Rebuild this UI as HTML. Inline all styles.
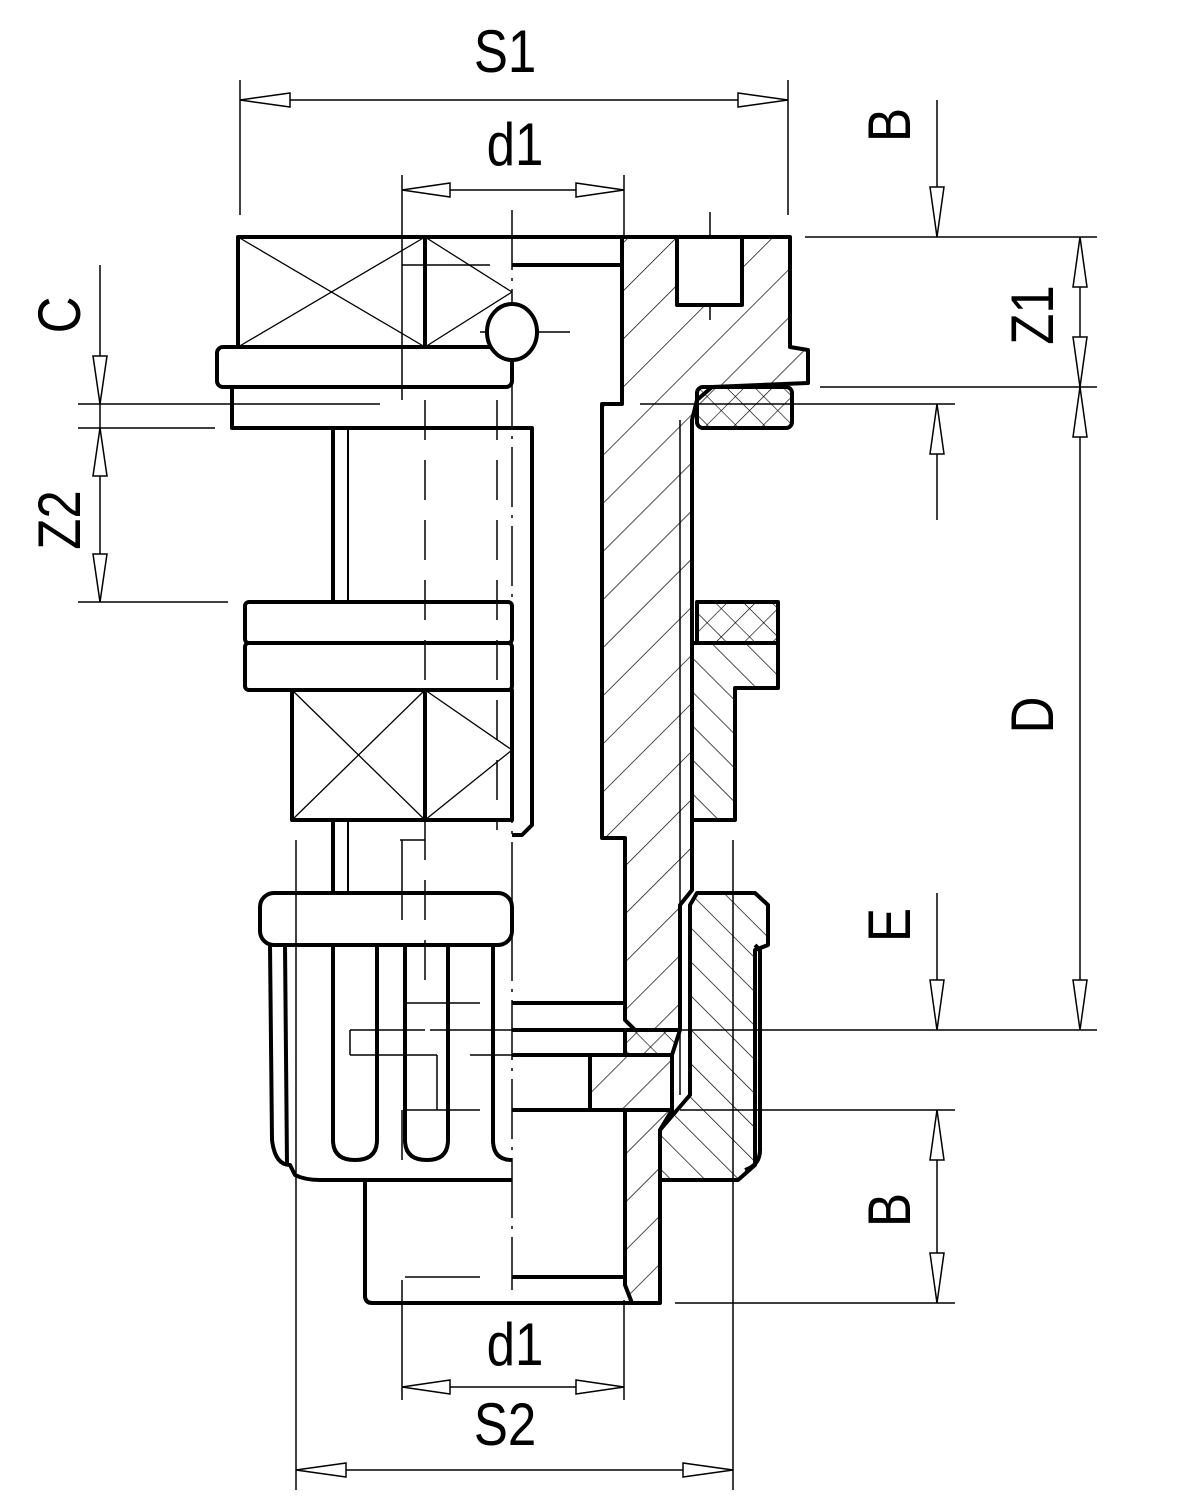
<!DOCTYPE html>
<html><head><meta charset="utf-8"><style>html,body{margin:0;padding:0;background:#fff}svg{display:block}</style></head>
<body>
<svg width="1192" height="1504" viewBox="0 0 1192 1504" xmlns="http://www.w3.org/2000/svg">
<defs>
<pattern id="h1" patternUnits="userSpaceOnUse" width="34" height="34" patternTransform="rotate(45)"><line x1="0" y1="0" x2="0" y2="34" stroke="#000" stroke-width="1.4"/></pattern>
<pattern id="h2" patternUnits="userSpaceOnUse" width="24" height="24" patternTransform="rotate(-45)"><line x1="0" y1="0" x2="0" y2="24" stroke="#000" stroke-width="1.4"/></pattern>
<pattern id="hx" patternUnits="userSpaceOnUse" width="20" height="20" patternTransform="rotate(45)"><line x1="0" y1="0" x2="0" y2="20" stroke="#000" stroke-width="1.3"/><line x1="0" y1="0" x2="20" y2="0" stroke="#000" stroke-width="1.3"/></pattern>
</defs>
<g fill="none" stroke="#000" stroke-width="1.5">
<line x1="240" y1="80" x2="240" y2="215"/><line x1="788" y1="80" x2="788" y2="215"/>
<line x1="240" y1="100" x2="788" y2="100"/>
<line x1="402" y1="175" x2="402" y2="400"/><line x1="624" y1="175" x2="624" y2="237"/>
<line x1="402" y1="190" x2="624" y2="190"/>
<line x1="937" y1="100" x2="937" y2="237"/><line x1="937" y1="404" x2="937" y2="520"/>
<line x1="805" y1="237" x2="1097" y2="237"/>
<line x1="820" y1="387" x2="1097" y2="387"/>
<line x1="640" y1="404" x2="955" y2="404"/>
<line x1="1080" y1="237" x2="1080" y2="1030"/>
<line x1="680" y1="1030" x2="1097" y2="1030"/>
<line x1="937" y1="893" x2="937" y2="1030"/>
<line x1="680" y1="1110" x2="955" y2="1110"/>
<line x1="937" y1="1110" x2="937" y2="1303"/>
<line x1="675" y1="1303" x2="955" y2="1303"/>
<line x1="100" y1="265" x2="100" y2="602"/>
<line x1="78" y1="404" x2="380" y2="404"/><line x1="78" y1="428" x2="215" y2="428"/>
<line x1="78" y1="602" x2="228" y2="602"/>
<line x1="402" y1="1280" x2="402" y2="1400"/><line x1="624" y1="1300" x2="624" y2="1400"/>
<line x1="402" y1="1387" x2="624" y2="1387"/>
<line x1="296" y1="840" x2="296" y2="1490"/><line x1="733" y1="840" x2="733" y2="1490"/>
<line x1="296" y1="1470" x2="733" y2="1470"/>
<line x1="512" y1="210" x2="512" y2="1290" stroke-dasharray="60,8,3,8"/>
<line x1="425" y1="400" x2="425" y2="1000" stroke-dasharray="40,20"/>
<line x1="497" y1="400" x2="497" y2="830" stroke-dasharray="40,20"/>
<line x1="710" y1="212" x2="710" y2="320"/>
<line x1="480" y1="332" x2="570" y2="332"/>
<line x1="402" y1="265" x2="490" y2="265"/>
<line x1="400" y1="840" x2="425" y2="840"/><line x1="402" y1="840" x2="402" y2="920"/>
<line x1="405" y1="1003" x2="480" y2="1003"/><line x1="350" y1="1030" x2="425" y2="1030"/><line x1="350" y1="1030" x2="350" y2="1055"/><line x1="350" y1="1055" x2="437" y2="1055"/>
<line x1="430" y1="1030" x2="512" y2="1030"/><line x1="470" y1="1055" x2="512" y2="1055"/>
<line x1="437" y1="1055" x2="437" y2="1110"/><line x1="405" y1="1110" x2="480" y2="1110"/>
<line x1="405" y1="1277" x2="480" y2="1277"/><line x1="402" y1="1110" x2="402" y2="1160"/>
<line x1="680" y1="420" x2="680" y2="1095"/>
</g>
<g fill="#fff" stroke="#000" stroke-width="1.5">
<polygon points="240,100 290,93 290,107"/><polygon points="788,100 738,93 738,107"/>
<polygon points="402,190 450,183 450,197"/><polygon points="624,190 576,183 576,197"/>
<polygon points="402,1387 450,1380 450,1394"/><polygon points="624,1387 576,1380 576,1394"/>
<polygon points="296,1470 346,1463 346,1477"/><polygon points="733,1470 683,1463 683,1477"/>
<polygon points="937,237 930,187 944,187"/><polygon points="937,404 930,454 944,454"/>
<polygon points="1080,237 1073,287 1087,287"/><polygon points="1080,387 1073,337 1087,337"/>
<polygon points="1080,387 1073,437 1087,437"/><polygon points="1080,1030 1073,980 1087,980"/>
<polygon points="937,1030 930,980 944,980"/>
<polygon points="937,1110 930,1160 944,1160"/><polygon points="937,1303 930,1253 944,1253"/>
<polygon points="100,404 93,356 107,356"/><polygon points="100,428 93,476 107,476"/>
<polygon points="100,602 93,554 107,554"/>
</g>
<g stroke="#000" stroke-width="4" stroke-linejoin="round">
<polygon fill="url(#h1)" points="622,237 790,237 790,347 808,350 808,383 712,387 697,400 692,420 692,890 680,905 680,1030 635,1030 625,1020 625,838 602,838 602,404 622,404"/>
<rect x="677" y="237" width="65" height="68" fill="#fff"/>
<rect x="697" y="387" width="95" height="41" rx="6" fill="url(#hx)"/>
<rect x="697" y="602" width="81" height="41" fill="url(#hx)"/>
<polygon fill="url(#h2)" points="692,643 778,643 778,688 735,688 735,820 692,820"/>
<polygon fill="url(#h2)" points="697,893 755,893 768,905 768,945 755,950 755,1165 738,1180 660,1180 660,1130 690,1095 690,905"/>
<polygon fill="url(#hx)" points="625,1030 680,1030 672,1055 625,1055"/>
<polygon fill="url(#h1)" points="590,1055 672,1055 672,1110 590,1110"/>
<polygon fill="url(#h1)" points="625,1110 672,1110 660,1130 660,1303 632,1303 625,1285"/>
</g>
<g fill="none" stroke="#000" stroke-width="4" stroke-linejoin="round">
<rect x="238" y="237" width="187" height="110"/>
<line x1="425" y1="237" x2="622" y2="237"/>
<line x1="425" y1="237" x2="425" y2="347"/>
<line x1="512" y1="265" x2="622" y2="265"/>
<line x1="622" y1="237" x2="622" y2="404"/>
<rect x="217" y="347" width="295" height="40" rx="6"/>
<polyline points="232,387 232,428 532,428 532,825 522,835 512,835"/>
<ellipse cx="512" cy="332" rx="25" ry="28" fill="#fff"/>
<line x1="333" y1="428" x2="333" y2="602"/><line x1="348" y1="428" x2="348" y2="602" stroke-width="2"/>
<rect x="245" y="602" width="267" height="41" rx="4"/>
<rect x="245" y="643" width="267" height="47" rx="4"/>
<rect x="292" y="690" width="220" height="130"/>
<line x1="425" y1="690" x2="425" y2="820"/>
<line x1="333" y1="820" x2="333" y2="893"/><line x1="348" y1="820" x2="348" y2="893" stroke-width="2"/>
<rect x="260" y="893" width="252" height="52" rx="14"/>
<path d="M270,945 L272,1140 Q275,1165 290,1165 L295,1175 Q305,1180 320,1180 L512,1180"/>
<line x1="285" y1="945" x2="287" y2="1165"/>
<path d="M333,945 L333,1140 Q333,1160 355,1160 Q377,1160 377,1140 L377,945"/>
<path d="M405,945 L405,1140 Q405,1160 427,1160 Q448,1160 448,1140 L448,945"/>
<path d="M493,945 L493,1140 Q493,1160 512,1160"/>
<path d="M365,1180 L365,1297 Q366,1303 372,1303 L632,1303"/>
<line x1="512" y1="1277" x2="625" y2="1277"/>
<line x1="512" y1="1003" x2="625" y2="1003"/>
<line x1="512" y1="1030" x2="625" y2="1030"/>
<line x1="512" y1="1055" x2="590" y2="1055"/>
<line x1="512" y1="1110" x2="625" y2="1110"/>
<path d="M755,945 L760,950 L760,1150 Q760,1165 745,1170"/>
</g>
<g stroke="#000" stroke-width="1.3">
<line x1="238" y1="237" x2="425" y2="347"/><line x1="425" y1="237" x2="238" y2="347"/>
<line x1="425" y1="237" x2="512" y2="292"/><line x1="512" y1="292" x2="425" y2="347"/>
<line x1="292" y1="690" x2="425" y2="820"/><line x1="425" y1="690" x2="292" y2="820"/>
<line x1="425" y1="690" x2="512" y2="750"/><line x1="512" y1="750" x2="425" y2="820"/>
</g>
<g font-family="Liberation Sans, sans-serif" font-size="60" fill="#000" text-anchor="middle">
<text transform="translate(505,72) scale(0.85,1)">S1</text>
<text transform="translate(515,165) scale(0.85,1)">d1</text>
<text transform="translate(515,1365) scale(0.85,1)">d1</text>
<text transform="translate(505,1445) scale(0.85,1)">S2</text>
<text transform="translate(910,125) rotate(-90) scale(0.85,1)">B</text>
<text transform="translate(910,925) rotate(-90) scale(0.85,1)">E</text>
<text transform="translate(910,1210) rotate(-90) scale(0.85,1)">B</text>
<text transform="translate(1053,315) rotate(-90) scale(0.85,1)">Z1</text>
<text transform="translate(1053,715) rotate(-90) scale(0.85,1)">D</text>
<text transform="translate(80,315) rotate(-90) scale(0.85,1)">C</text>
<text transform="translate(80,520) rotate(-90) scale(0.85,1)">Z2</text>
</g>
</svg>
</body></html>
